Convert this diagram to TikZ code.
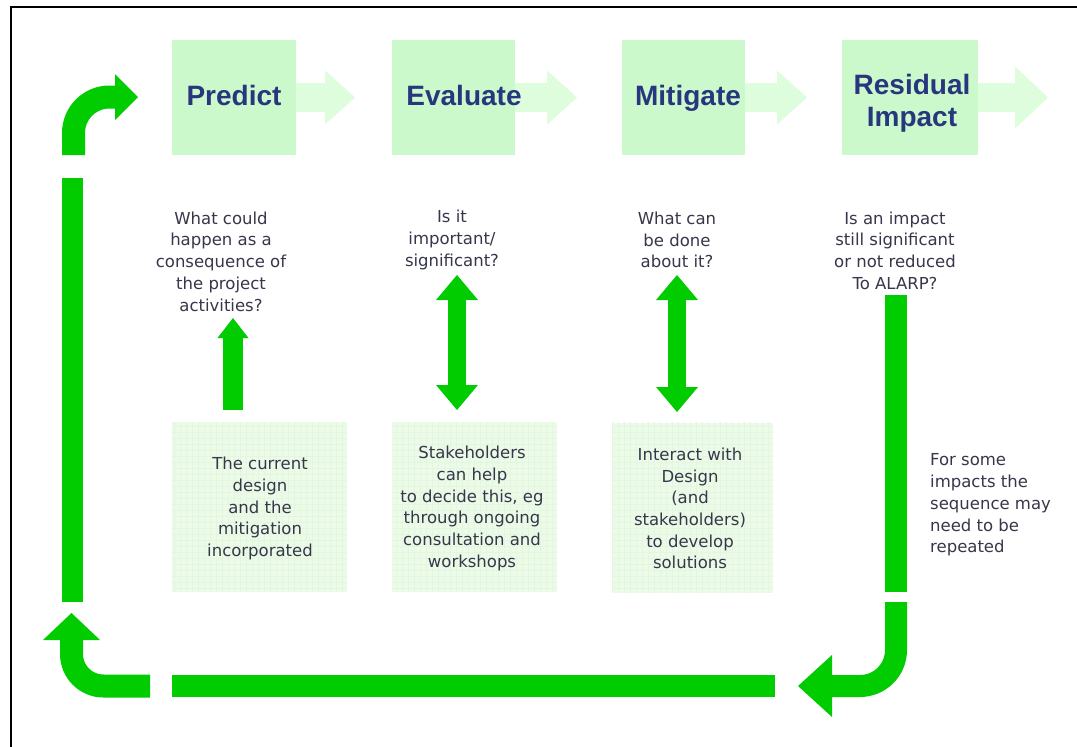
\documentclass[tikz,border=0pt]{standalone}
\usepackage{fontspec}
\setmainfont{DejaVu Sans}
\newfontfamily\headfont{Liberation Sans}
\usetikzlibrary{arrows.meta}
\definecolor{gcol}{RGB}{0,204,0}
\definecolor{boxgreen}{RGB}{204,249,204}
\definecolor{lightarrow}{RGB}{221,253,221}
\definecolor{palebox}{RGB}{236,250,232}
\definecolor{gridc}{RGB}{227,246,223}
\definecolor{navy}{RGB}{40,55,125}
\definecolor{txtgrey}{RGB}{55,55,75}
\tikzset{
  topbox/.style={fill=boxgreen, draw=none, minimum height=115pt, inner sep=0pt},
  lowbox/.style={fill=palebox, draw=none, minimum height=170pt, inner sep=0pt},
  headlbl/.style={font=\headfont\bfseries\fontsize{28}{32}\selectfont, text=navy, inner sep=0pt, align=center},
  small/.style={font=\fontsize{16.5}{21.7}\selectfont, text=txtgrey, inner sep=0pt, align=center},
  flow/.style={draw=lightarrow, line width=29pt},
  gbar/.style={draw=gcol, line width=21pt},
}
\begin{document}
\begin{tikzpicture}[x=1pt,y=-1pt]
\useasboundingbox (0,0) rectangle (1077,747);
\fill[white] (0,0) rectangle (1077,747);
% frame
\draw[line width=2.5pt] (11,747) -- (11,7) -- (1077,7);
% top boxes
\node[topbox, minimum width=124pt] (P) at (234,97.5) {};
\node[topbox, minimum width=123pt] (E) at (453.5,97.5) {};
\node[topbox, minimum width=123pt] (M) at (683.5,97.5) {};
\node[topbox, minimum width=136pt] (R) at (910,97.5) {};
% light flow arrows
\coordinate (Pt) at (355,97.5);
\coordinate (Et) at (577,97.5);
\coordinate (Mt) at (807,97.5);
\coordinate (Rt) at (1048,97.5);
\draw[flow, -{Triangle[length=30pt,width=54pt,line width=0pt]}] (P.east) -- (Pt);
\draw[flow, -{Triangle[length=30pt,width=54pt,line width=0pt]}] (E.east) -- (Et);
\draw[flow, -{Triangle[length=30pt,width=54pt,line width=0pt]}] (M.east) -- (Mt);
\draw[flow, -{Triangle[length=33pt,width=62pt,line width=0pt]}] (R.east) -- (Rt);
% labels
\node[headlbl, anchor=base] (Pl) at (234,105) {Predict};
\node[headlbl, anchor=base] (El) at (464,105) {Evaluate};
\node[headlbl, anchor=base] (Ml) at (688,105) {Mitigate};
\node[headlbl] (Rl) at (912,103) {Residual\\Impact};
% questions
\node[small] (q1) at (221,261.5) {What could\\happen as a\\consequence of\\the project\\activities?};
\node[small] (q2) at (452,240) {Is it\\important/\\significant?};
\node[small] (q3) at (677,240) {What can\\be done\\about it?};
\node[small] (q4) at (895,250.5) {Is an impact\\still significant\\or not reduced\\To ALARP?};
% lower boxes
\node[lowbox, minimum width=175pt] (b1) at (259.5,507) {};
\node[lowbox, minimum width=165pt] (b2) at (474.5,507) {};
\node[lowbox, minimum width=161pt] (b3) at (692.5,507.5) {};
\foreach \b in {b1,b2,b3}{
  \draw[gridc, line width=0.5pt, step=6pt] (\b.south west) grid (\b.north east);
}
\node[small] (t1) at (260,508.5) {The current\\design\\and the\\mitigation\\incorporated};
\node[small] (t2) at (472,508.5) {Stakeholders\\can help\\to decide this, eg\\through ongoing\\consultation and\\workshops};
\node[small] (t3) at (690,508.5) {Interact with\\Design\\(and\\stakeholders)\\to develop\\solutions};
\node[small, align=left, anchor=west] (t4) at (930,505) {For some\\impacts the\\sequence may\\need to be\\repeated};
% vertical green arrows
\coordinate (pa0) at (233,410);
\coordinate (pa1) at (233,318);
\coordinate (ea0) at (457,275);
\coordinate (ea1) at (457,410);
\coordinate (ma0) at (677,275);
\coordinate (ma1) at (677,412);
\draw[gbar, line width=20pt, -{Triangle[length=20pt,width=31pt,line width=0pt]}] (pa0) -- (pa1);
\draw[gbar, line width=18pt, {Triangle[length=25pt,width=42pt,line width=0pt]}-{Triangle[length=25pt,width=42pt,line width=0pt]}] (ea0) -- (ea1);
\draw[gbar, line width=18pt, {Triangle[length=25pt,width=42pt,line width=0pt]}-{Triangle[length=25pt,width=42pt,line width=0pt]}] (ma0) -- (ma1);
% outer cycle
\coordinate (c1) at (73.5,155);
\coordinate (c2) at (138,97);
\coordinate (l0) at (72.5,178);
\coordinate (l1) at (72.5,602);
\coordinate (bl0) at (150,686);
\coordinate (bl1) at (71.5,613);
\coordinate (bb0) at (172,686);
\coordinate (bb1) at (775,686);
\coordinate (br0) at (896,602);
\coordinate (br1) at (798,686);
\coordinate (rv0) at (896,295);
\coordinate (rv1) at (896,592);
\draw[gbar, line width=23pt, rounded corners=36pt, -{Triangle[length=23pt,width=46pt,line width=0pt]}] (c1) |- (c2);
\draw[gbar] (l0) -- (l1);
\draw[gbar, line width=23pt, rounded corners=32pt, -{Triangle[length=27pt,width=57pt,line width=0pt]}] (bl0) -| (bl1);
\draw[gbar, line width=22pt] (bb0) -- (bb1);
\draw[gbar, line width=22pt, rounded corners=36pt, -{Triangle[length=34pt,width=62pt,line width=0pt]}] (br0) |- (br1);
\draw[gbar, line width=22pt] (rv0) -- (rv1);
\end{tikzpicture}
\end{document}
